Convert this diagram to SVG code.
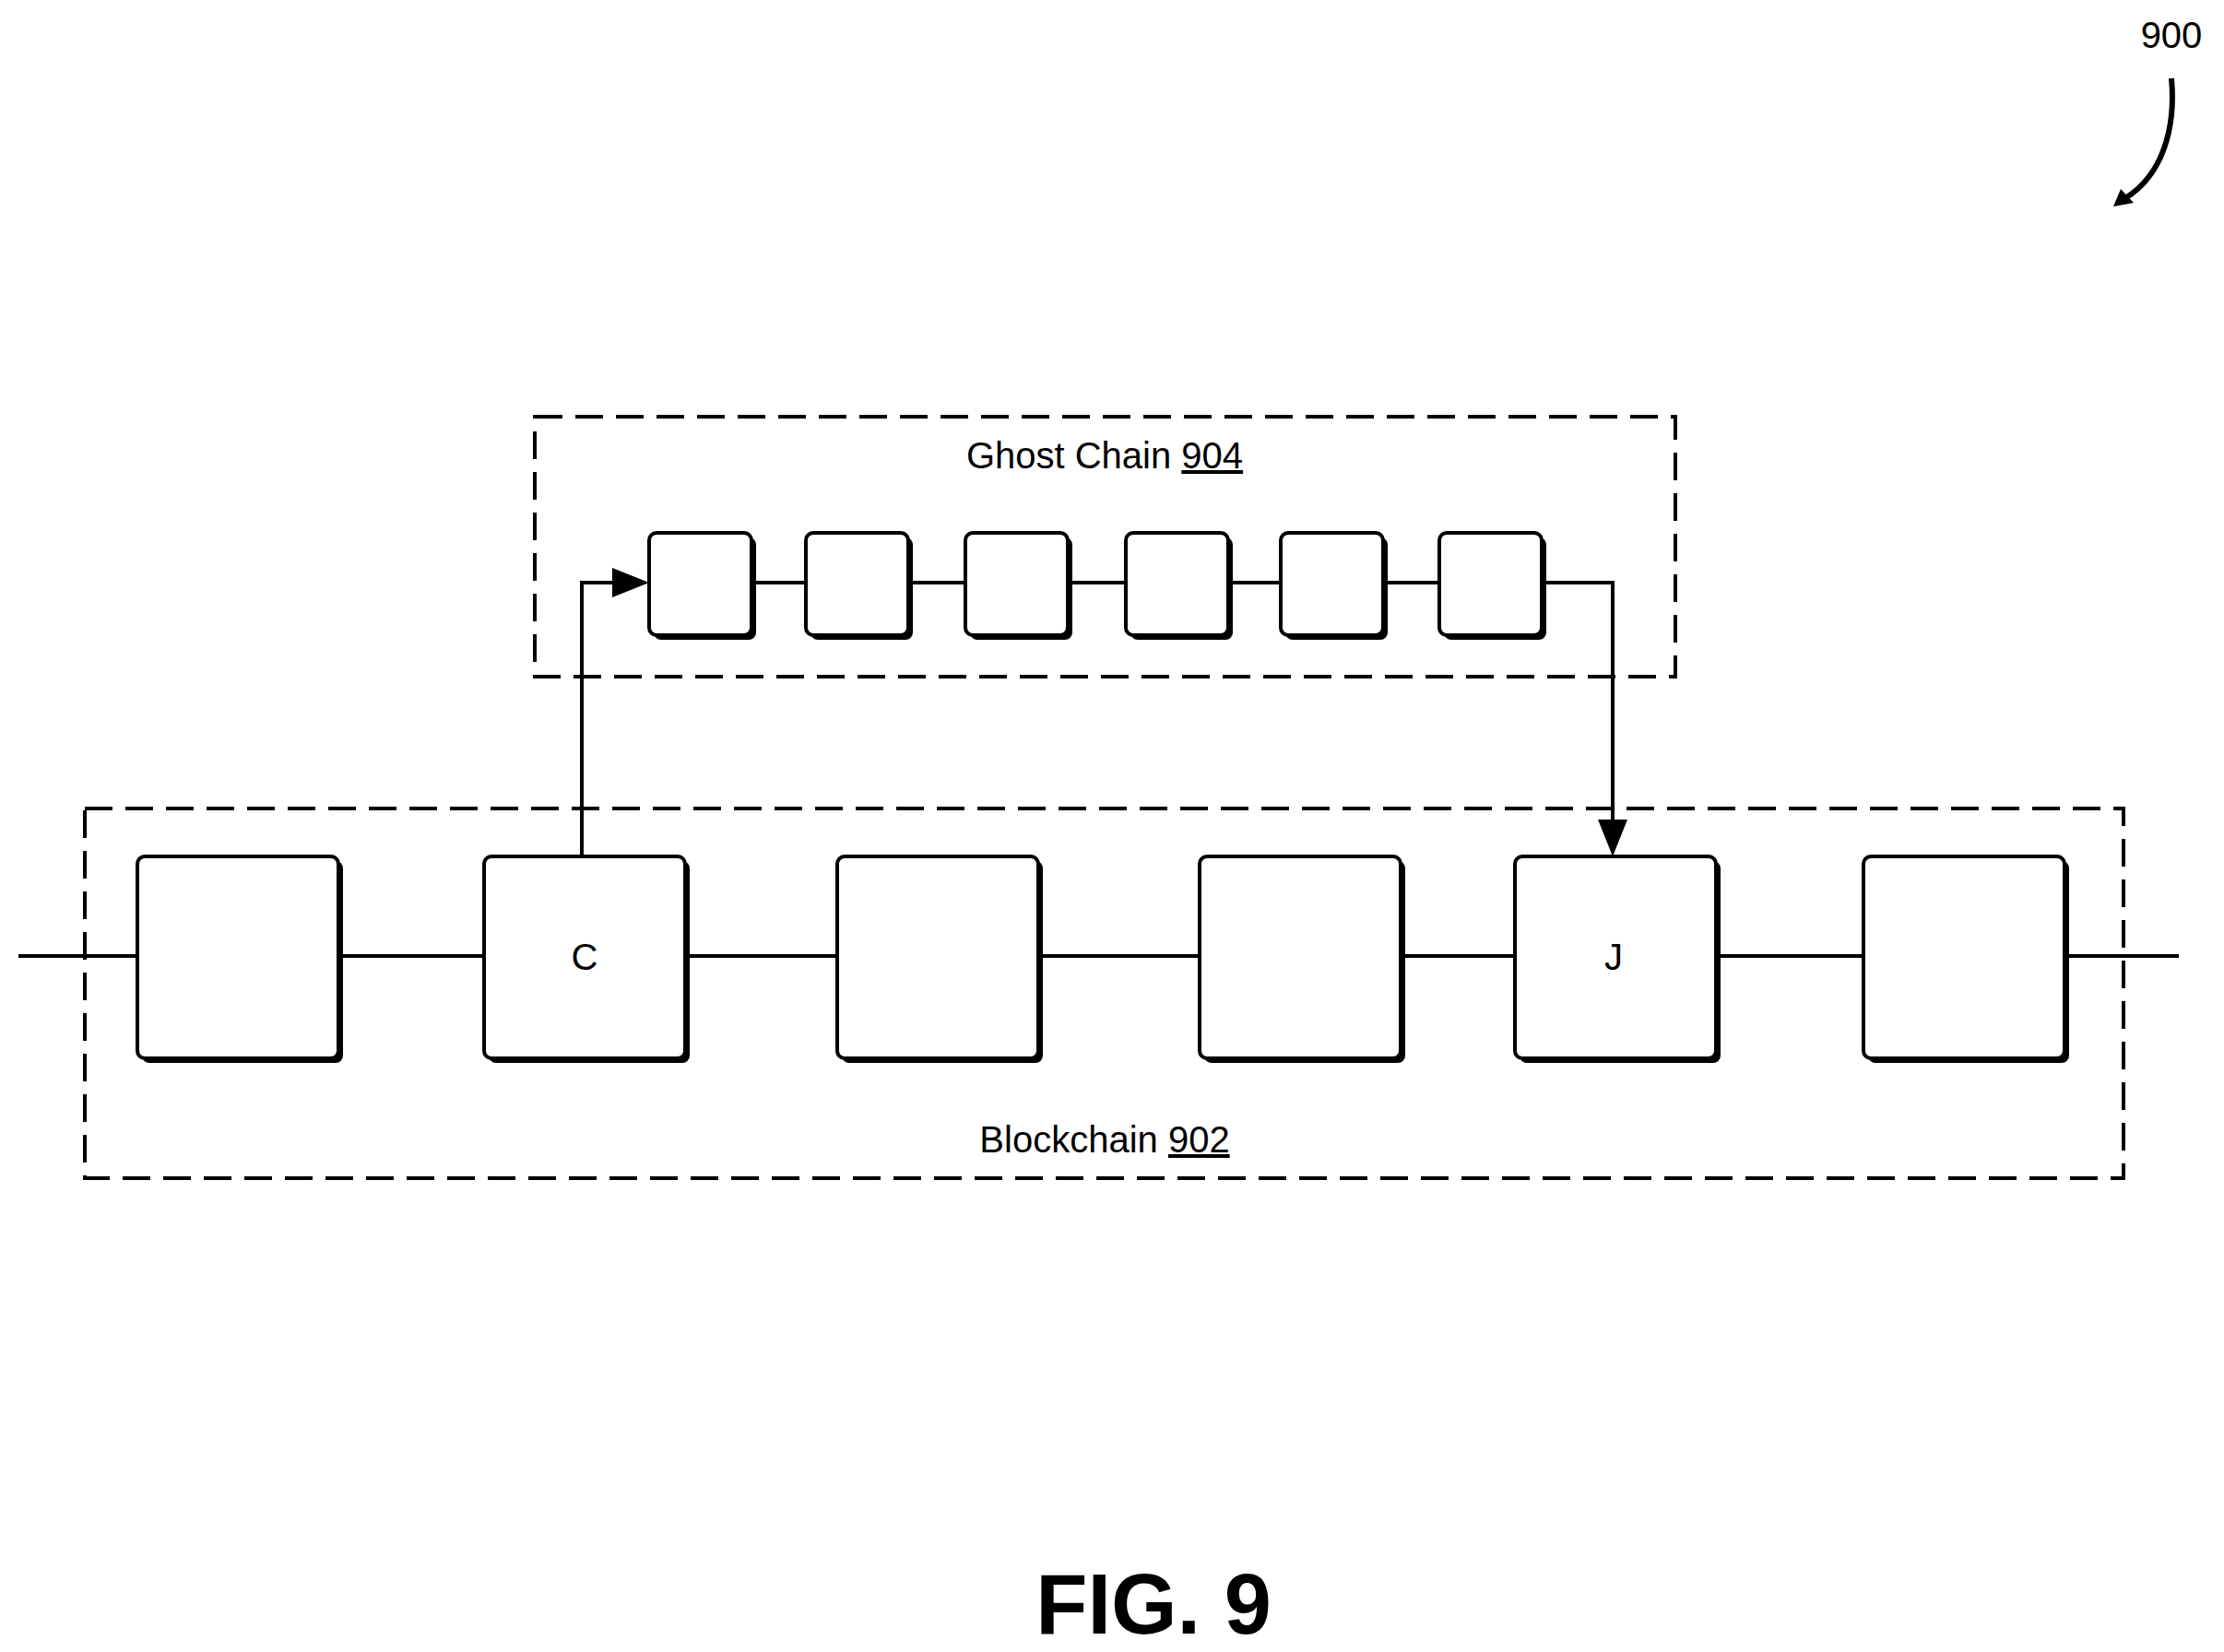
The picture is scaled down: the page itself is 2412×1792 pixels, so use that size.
<svg xmlns="http://www.w3.org/2000/svg" width="2412" height="1792" viewBox="0 0 2412 1792">
<defs>
<style>
.blk{fill:#fff;stroke:#000;stroke-width:4}
.sh{fill:#000}
.ln{stroke:#000;stroke-width:4;fill:none}
.dash{stroke:#000;stroke-width:4;fill:none;stroke-dasharray:30 14}
.t{font-family:"Liberation Sans",Arial,sans-serif;font-size:40px;fill:#000}
</style>
<marker id="ah" markerWidth="10" markerHeight="8" refX="9" refY="4" orient="auto" markerUnits="strokeWidth">
<path d="M0,0 L10,4 L0,8 Z" fill="#000"/>
</marker>
</defs>
<rect width="2412" height="1792" fill="#fff"/>
<g id="ghost-chain-904">
<rect class="dash" x="580" y="452" width="1237" height="282"/>
<text class="t" x="1198" y="508" text-anchor="middle">Ghost Chain <tspan text-decoration="underline">904</tspan></text>
</g>
<g id="blockchain-902">
<rect class="dash" x="92" y="877" width="2211" height="401"/>
<text class="t" x="1198" y="1250" text-anchor="middle">Blockchain <tspan text-decoration="underline">902</tspan></text>
</g>
<g id="connectors">
<line class="ln" x1="20" y1="1037" x2="2363" y2="1037"/>
<line class="ln" x1="704" y1="632" x2="1672" y2="632"/>
<path class="ln" d="M631,929 V632 H700" marker-end="url(#ah)"/>
<path class="ln" d="M1672,632 H1749 V925" marker-end="url(#ah)"/>
<path d="M2355,85 C2360,140 2345,190 2305,215" stroke="#000" stroke-width="6" fill="none"/>
<path d="M2292,224 L2300,205 L2314,220 Z" fill="#000"/>
</g>
<g id="block-1"><rect class="sh" x="154" y="934" width="218" height="219" rx="8"/><rect class="blk" x="149" y="929" width="218" height="219" rx="8"/></g>
<g id="block-C"><rect class="sh" x="530" y="934" width="218" height="219" rx="8"/><rect class="blk" x="525" y="929" width="218" height="219" rx="8"/><text class="t" x="634" y="1052" text-anchor="middle">C</text></g>
<g id="block-3"><rect class="sh" x="913" y="934" width="218" height="219" rx="8"/><rect class="blk" x="908" y="929" width="218" height="219" rx="8"/></g>
<g id="block-4"><rect class="sh" x="1306" y="934" width="218" height="219" rx="8"/><rect class="blk" x="1301" y="929" width="218" height="219" rx="8"/></g>
<g id="block-J"><rect class="sh" x="1648" y="934" width="218" height="219" rx="8"/><rect class="blk" x="1643" y="929" width="218" height="219" rx="8"/><text class="t" x="1750" y="1052" text-anchor="middle">J</text></g>
<g id="block-6"><rect class="sh" x="2026" y="934" width="218" height="219" rx="8"/><rect class="blk" x="2021" y="929" width="218" height="219" rx="8"/></g>
<g id="ghost-1"><rect class="sh" x="709" y="583" width="111" height="111" rx="8"/><rect class="blk" x="704" y="578" width="111" height="111" rx="8"/></g>
<g id="ghost-2"><rect class="sh" x="879" y="583" width="111" height="111" rx="8"/><rect class="blk" x="874" y="578" width="111" height="111" rx="8"/></g>
<g id="ghost-3"><rect class="sh" x="1052" y="583" width="111" height="111" rx="8"/><rect class="blk" x="1047" y="578" width="111" height="111" rx="8"/></g>
<g id="ghost-4"><rect class="sh" x="1226" y="583" width="111" height="111" rx="8"/><rect class="blk" x="1221" y="578" width="111" height="111" rx="8"/></g>
<g id="ghost-5"><rect class="sh" x="1394" y="583" width="111" height="111" rx="8"/><rect class="blk" x="1389" y="578" width="111" height="111" rx="8"/></g>
<g id="ghost-6"><rect class="sh" x="1566" y="583" width="111" height="111" rx="8"/><rect class="blk" x="1561" y="578" width="111" height="111" rx="8"/></g>
<text class="t" x="2355" y="52" text-anchor="middle">900</text>
<text x="1251" y="1772" text-anchor="middle" style="font-family:'Liberation Sans',Arial,sans-serif;font-size:92px;font-weight:bold">FIG. 9</text>
</svg>
